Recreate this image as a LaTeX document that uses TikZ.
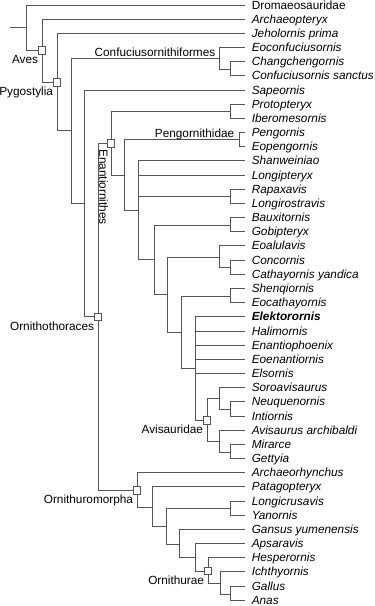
\documentclass[tikz,border=0pt]{standalone}
\usepackage{fontspec}
\setmainfont{Liberation Sans}
\definecolor{lc}{RGB}{85,85,85}
\begin{document}
\begin{tikzpicture}[x=1pt,y=-1pt,
  br/.style={draw=lc, line width=0.8pt},
  cbox/.style={draw=lc, fill=white, line width=0.7pt, minimum size=7.6pt, inner sep=0pt, rectangle},
  leaf/.style={anchor=base west, inner sep=0pt, xshift=6.6pt, yshift=-4.1pt, font=\fontsize{11.8}{13}\selectfont\itshape},
  clade/.style={inner sep=0pt, font=\fontsize{11.8}{13}\selectfont},
]
\useasboundingbox (0,0) rectangle (375,606);
% leaf tips
\foreach \i in {1,...,43} \coordinate (L\i) at (245, {5+(\i-1)*14.17});
% internal nodes
\coordinate (S) at (10,27.8);
\coordinate (R) at (26,27.8);
\coordinate (A) at (42,50.6);
\coordinate (P) at (57,82.1);
\coordinate (N1) at (71,130.8);
\coordinate (C) at (219,58.2);
\coordinate (C2) at (230,68.9);
\coordinate (N2) at (84,203.4);
\coordinate (O) at (98,316.7);
\coordinate (E) at (111,143.3);
\coordinate (Prot) at (230,111.4);
\coordinate (E2) at (124,175.1);
\coordinate (Peng) at (239,139.8);
\coordinate (E3) at (138,210.5);
\coordinate (Rap) at (230,196.6);
\coordinate (E4) at (154,259.8);
\coordinate (Baux) at (230,225.0);
\coordinate (E5) at (167,294.6);
\coordinate (Eoal) at (219,256.9);
\coordinate (Conc) at (230,267.5);
\coordinate (E6) at (181,332.3);
\coordinate (Shen) at (230,295.9);
\coordinate (E7) at (195,368.6);
\coordinate (Avis) at (207,420.1);
\coordinate (Soro) at (219,398.8);
\coordinate (Neuq) at (230,409.4);
\coordinate (AvA) at (219,441.4);
\coordinate (Mir) at (230,452.0);
\coordinate (OM) at (137,490.1);
\coordinate (OM2) at (152,506.9);
\coordinate (OM3) at (166,526.3);
\coordinate (Lgc) at (230,508.8);
\coordinate (OM4) at (179,543.9);
\coordinate (OM5) at (195,557.6);
\coordinate (Ornu) at (208,570.9);
\coordinate (Ich) at (220,583.3);
\coordinate (Gal) at (230,593.9);
% branches
\draw[br] (S) -- (R);
\draw[br] (R) |- (L1); \draw[br] (R) |- (A);
\draw[br] (A) |- (L2); \draw[br] (A) |- (P);
\draw[br] (P) |- (L3); \draw[br] (P) |- (N1);
\draw[br] (N1) |- (C); \draw[br] (N1) |- (N2);
\draw[br] (C) |- (L4); \draw[br] (C) |- (C2);
\draw[br] (C2) |- (L5); \draw[br] (C2) |- (L6);
\draw[br] (N2) |- (L7); \draw[br] (N2) |- (O);
\draw[br] (O) |- (E); \draw[br] (O) |- (OM);
\draw[br] (E) |- (Prot); \draw[br] (E) |- (E2);
\draw[br] (Prot) |- (L8); \draw[br] (Prot) |- (L9);
\draw[br] (E2) |- (Peng); \draw[br] (E2) |- (E3);
\draw[br] (Peng) |- (L10); \draw[br] (Peng) |- (L11);
\draw[br] (E3) |- (L12); \draw[br] (E3) |- (L13); \draw[br] (E3) |- (Rap); \draw[br] (E3) |- (E4);
\draw[br] (Rap) |- (L14); \draw[br] (Rap) |- (L15);
\draw[br] (E4) |- (Baux); \draw[br] (E4) |- (E5);
\draw[br] (Baux) |- (L16); \draw[br] (Baux) |- (L17);
\draw[br] (E5) |- (Eoal); \draw[br] (E5) |- (E6);
\draw[br] (Eoal) |- (L18); \draw[br] (Eoal) |- (Conc);
\draw[br] (Conc) |- (L19); \draw[br] (Conc) |- (L20);
\draw[br] (E6) |- (Shen); \draw[br] (E6) |- (E7);
\draw[br] (Shen) |- (L21); \draw[br] (Shen) |- (L22);
\foreach \i in {23,...,27} \draw[br] (E7) |- (L\i);
\draw[br] (E7) |- (Avis);
\draw[br] (Avis) |- (Soro); \draw[br] (Avis) |- (AvA);
\draw[br] (Soro) |- (L28); \draw[br] (Soro) |- (Neuq);
\draw[br] (Neuq) |- (L29); \draw[br] (Neuq) |- (L30);
\draw[br] (AvA) |- (L31); \draw[br] (AvA) |- (Mir);
\draw[br] (Mir) |- (L32); \draw[br] (Mir) |- (L33);
\draw[br] (OM) |- (L34); \draw[br] (OM) |- (OM2);
\draw[br] (OM2) |- (L35); \draw[br] (OM2) |- (OM3);
\draw[br] (OM3) |- (Lgc); \draw[br] (OM3) |- (OM4);
\draw[br] (Lgc) |- (L36); \draw[br] (Lgc) |- (L37);
\draw[br] (OM4) |- (L38); \draw[br] (OM4) |- (OM5);
\draw[br] (OM5) |- (L39); \draw[br] (OM5) |- (Ornu);
\draw[br] (Ornu) |- (L40); \draw[br] (Ornu) |- (Ich);
\draw[br] (Ich) |- (L41); \draw[br] (Ich) |- (Gal);
\draw[br] (Gal) |- (L42); \draw[br] (Gal) |- (L43);
% boxes
\node[cbox] (bA) at (A) {};
\node[cbox] (bP) at (P) {};
\node[cbox] (bE) at (E) {};
\node[cbox] (bO) at (O) {};
\node[cbox] (bAvis) at (Avis) {};
\node[cbox] (bOM) at (OM) {};
\node[cbox] (bOrnu) at (Ornu) {};
% clade labels
\node[clade, anchor=north east] (tAves) at ([xshift=0.4pt,yshift=-0.6pt]bA.south west) {Aves};
\node[clade, anchor=north east] (tPyg) at ([xshift=0.4pt,yshift=-0.6pt]bP.south west) {Pygostylia};
\node[clade, anchor=north east] (tOrn) at ([xshift=0.4pt,yshift=-0.6pt]bO.south west) {Ornithothoraces};
\node[clade, anchor=north east] (tAvis) at ([xshift=0.4pt,yshift=-0.6pt]bAvis.south west) {Avisauridae};
\node[clade, anchor=north east] (tOM) at ([xshift=0.4pt,yshift=-0.6pt]bOM.south west) {Ornithuromorpha};
\node[clade, anchor=north east] (tOrnu) at ([xshift=0.4pt,yshift=-0.6pt]bOrnu.south west) {Ornithurae};
\node[clade, anchor=base east] (tConf) at (215.5,56.7) {Confuciusornithiformes};
\node[clade, anchor=base east] (tPeng) at (234.5,137.3) {Pengornithidae};
\node[clade, anchor=base west, rotate=-90] (tEnan) at (99.4,149) {Enantiornithes};
% leaf labels
\node[leaf, font=\fontsize{11.8}{13}\selectfont] (T1) at (L1) {Dromaeosauridae};
\node[leaf] (T2) at (L2) {Archaeopteryx};
\node[leaf] (T3) at (L3) {Jeholornis prima};
\node[leaf] (T4) at (L4) {Eoconfuciusornis};
\node[leaf] (T5) at (L5) {Changchengornis};
\node[leaf] (T6) at (L6) {Confuciusornis sanctus};
\node[leaf] (T7) at (L7) {Sapeornis};
\node[leaf] (T8) at (L8) {Protopteryx};
\node[leaf] (T9) at (L9) {Iberomesornis};
\node[leaf] (T10) at (L10) {Pengornis};
\node[leaf] (T11) at (L11) {Eopengornis};
\node[leaf] (T12) at (L12) {Shanweiniao};
\node[leaf] (T13) at (L13) {Longipteryx};
\node[leaf] (T14) at (L14) {Rapaxavis};
\node[leaf] (T15) at (L15) {Longirostravis};
\node[leaf] (T16) at (L16) {Bauxitornis};
\node[leaf] (T17) at (L17) {Gobipteryx};
\node[leaf] (T18) at (L18) {Eoalulavis};
\node[leaf] (T19) at (L19) {Concornis};
\node[leaf] (T20) at (L20) {Cathayornis yandica};
\node[leaf] (T21) at (L21) {Shenqiornis};
\node[leaf] (T22) at (L22) {Eocathayornis};
\node[leaf, font=\fontsize{11.8}{13}\selectfont\bfseries\itshape] (T23) at (L23) {Elektorornis};
\node[leaf] (T24) at (L24) {Halimornis};
\node[leaf] (T25) at (L25) {Enantiophoenix};
\node[leaf] (T26) at (L26) {Eoenantiornis};
\node[leaf] (T27) at (L27) {Elsornis};
\node[leaf] (T28) at (L28) {Soroavisaurus};
\node[leaf] (T29) at (L29) {Neuquenornis};
\node[leaf] (T30) at (L30) {Intiornis};
\node[leaf] (T31) at (L31) {Avisaurus archibaldi};
\node[leaf] (T32) at (L32) {Mirarce};
\node[leaf] (T33) at (L33) {Gettyia};
\node[leaf] (T34) at (L34) {Archaeorhynchus};
\node[leaf] (T35) at (L35) {Patagopteryx};
\node[leaf] (T36) at (L36) {Longicrusavis};
\node[leaf] (T37) at (L37) {Yanornis};
\node[leaf] (T38) at (L38) {Gansus yumenensis};
\node[leaf] (T39) at (L39) {Apsaravis};
\node[leaf] (T40) at (L40) {Hesperornis};
\node[leaf] (T41) at (L41) {Ichthyornis};
\node[leaf] (T42) at (L42) {Gallus};
\node[leaf] (T43) at (L43) {Anas};
\end{tikzpicture}
\end{document}
